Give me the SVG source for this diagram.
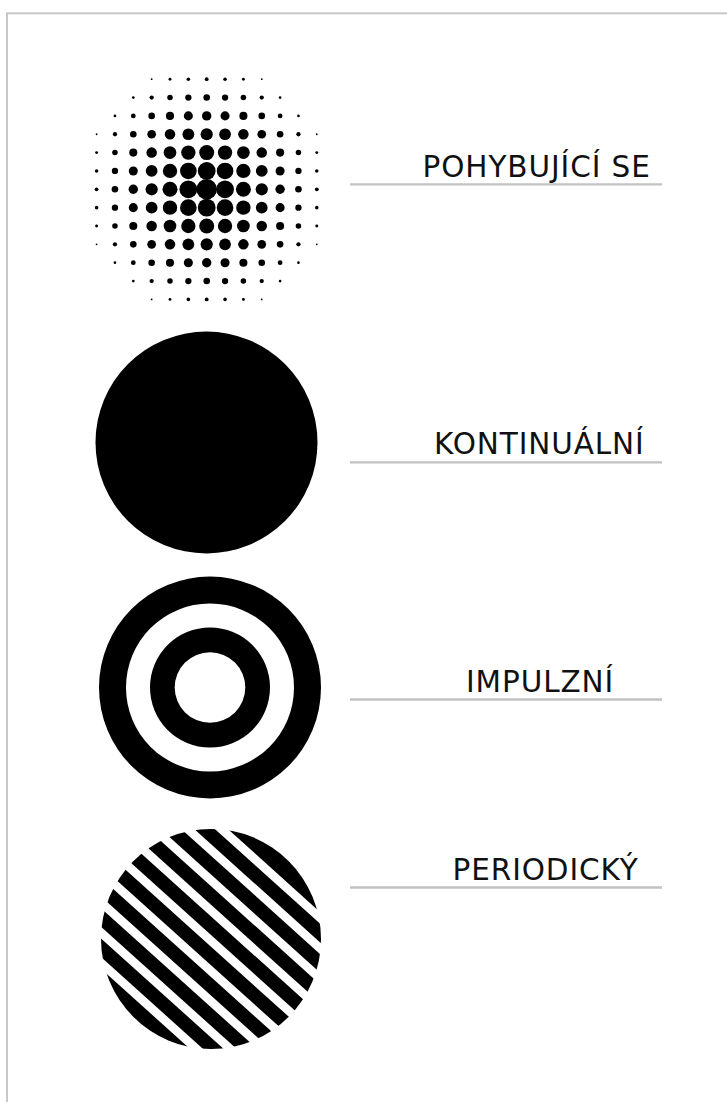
<svg xmlns="http://www.w3.org/2000/svg" xmlns:xlink="http://www.w3.org/1999/xlink" width="727" height="1102" viewBox="0 0 727 1102">
<style>
.lbl{font-family:"DejaVu Sans","Liberation Sans",sans-serif;font-size:29.5px;letter-spacing:0.9px;fill:#111}
.rule{stroke:#c2c2c2;stroke-width:2.3}
.ink{fill:#000}
.band{fill:#000}
</style>
<defs>
<clipPath id="stripeClip"><circle cx="211" cy="939" r="110"/></clipPath>
</defs>
<rect x="0" y="0" width="727" height="1102" fill="#fff"/>
<rect x="7" y="13.3" width="800" height="1200" fill="#fff" stroke="#c8c8c8" stroke-width="2"/>

<g id="node-pohybujici">
<g transform="translate(206.7,189.3)" class="ink">
<g id="hq">
<circle cx="18.35" cy="0" r="8.9"/><circle cx="36.7" cy="0" r="7.5"/><circle cx="55.05" cy="0" r="6.1"/><circle cx="73.4" cy="0" r="4.7"/><circle cx="91.75" cy="0" r="3.3"/><circle cx="110.1" cy="0" r="1.9"/>
<circle cx="18.35" cy="18.35" r="8.32"/><circle cx="36.7" cy="18.35" r="7.17"/><circle cx="55.05" cy="18.35" r="5.87"/><circle cx="73.4" cy="18.35" r="4.53"/><circle cx="91.75" cy="18.35" r="3.16"/><circle cx="110.1" cy="18.35" r="1.78"/>
<circle cx="18.35" cy="36.7" r="7.17"/><circle cx="36.7" cy="36.7" r="6.34"/><circle cx="55.05" cy="36.7" r="5.25"/><circle cx="73.4" cy="36.7" r="4.04"/><circle cx="91.75" cy="36.7" r="2.76"/><circle cx="110.1" cy="36.7" r="1.45"/>
<circle cx="18.35" cy="55.05" r="5.87"/><circle cx="36.7" cy="55.05" r="5.25"/><circle cx="55.05" cy="55.05" r="4.36"/><circle cx="73.4" cy="55.05" r="3.3"/><circle cx="91.75" cy="55.05" r="2.14"/><circle cx="110.1" cy="55.05" r="0.9"/>
<circle cx="18.35" cy="73.4" r="4.53"/><circle cx="36.7" cy="73.4" r="4.04"/><circle cx="55.05" cy="73.4" r="3.3"/><circle cx="73.4" cy="73.4" r="2.38"/><circle cx="91.75" cy="73.4" r="1.34"/>
<circle cx="18.35" cy="91.75" r="3.16"/><circle cx="36.7" cy="91.75" r="2.76"/><circle cx="55.05" cy="91.75" r="2.14"/><circle cx="73.4" cy="91.75" r="1.34"/>
<circle cx="18.35" cy="110.1" r="1.78"/><circle cx="36.7" cy="110.1" r="1.45"/><circle cx="55.05" cy="110.1" r="0.9"/>
</g>
<use href="#hq" xlink:href="#hq" transform="rotate(90)"/>
<use href="#hq" xlink:href="#hq" transform="rotate(180)"/>
<use href="#hq" xlink:href="#hq" transform="rotate(270)"/>
<circle cx="0" cy="0" r="10.3"/>
</g>
<text class="lbl" x="422.5" y="176.7">POHYBUJÍCÍ SE</text>
<line class="rule" x1="350" y1="184.3" x2="662" y2="184.3"/>
</g>

<g id="node-kontinualni">
<circle class="ink" cx="206.5" cy="442.5" r="111"/>
<text class="lbl" x="434" y="454.3">KONTINUÁLNÍ</text>
<line class="rule" x1="350" y1="462.3" x2="662" y2="462.3"/>
</g>

<g id="node-impulzni">
<circle class="ink" cx="210" cy="687.5" r="111"/>
<circle fill="#fff" cx="210" cy="687.5" r="84"/>
<circle class="ink" cx="210" cy="687.5" r="60"/>
<circle fill="#fff" cx="210" cy="687.5" r="35.3"/>
<text class="lbl" x="466" y="691.5">IMPULZNÍ</text>
<line class="rule" x1="350" y1="699.5" x2="662" y2="699.5"/>
</g>

<g id="node-periodicky">
<g clip-path="url(#stripeClip)">
<g transform="translate(211,939) rotate(42)">
<rect class="band" x="-130" y="-125" width="260" height="32"/>
<rect class="band" x="-130" y="-84.3" width="260" height="13.8"/>
<rect class="band" x="-130" y="-61.8" width="260" height="13.8"/>
<rect class="band" x="-130" y="-39.3" width="260" height="13.8"/>
<rect class="band" x="-130" y="-16.8" width="260" height="13.8"/>
<rect class="band" x="-130" y="5.7" width="260" height="13.8"/>
<rect class="band" x="-130" y="28.2" width="260" height="13.8"/>
<rect class="band" x="-130" y="50.7" width="260" height="13.8"/>
<rect class="band" x="-130" y="73.2" width="260" height="13.8"/>
<rect class="band" x="-130" y="95.7" width="260" height="30"/>
</g>
</g>
<text class="lbl" x="452.5" y="879.5">PERIODICKÝ</text>
<line class="rule" x1="350" y1="887.5" x2="662" y2="887.5"/>
</g>

<g id="connectors"></g>
</svg>
